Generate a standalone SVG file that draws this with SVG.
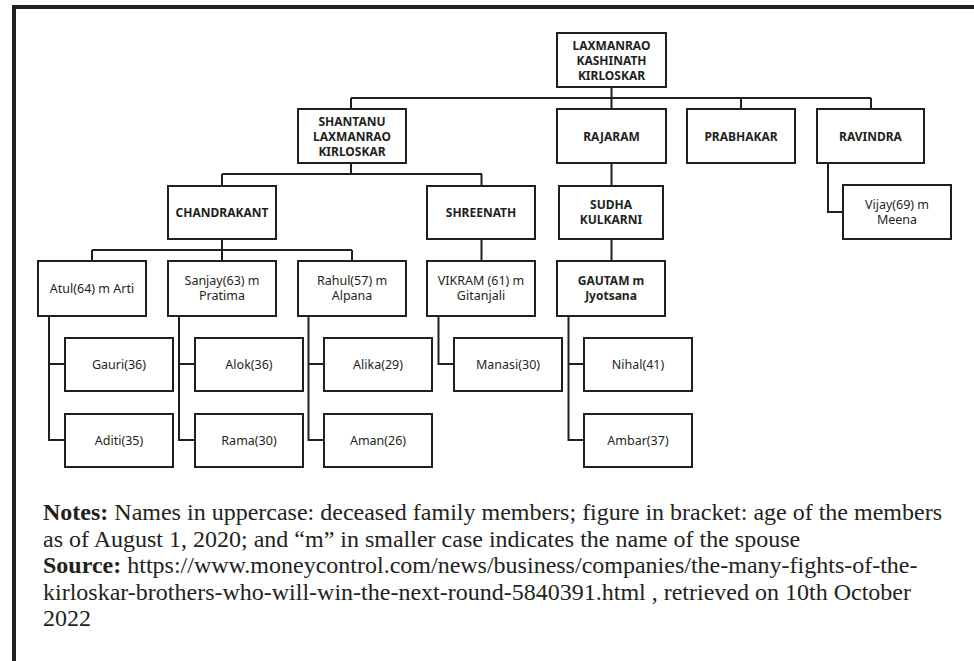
<svg xmlns="http://www.w3.org/2000/svg" width="974" height="661" viewBox="0 0 974 661">
<style>
.b{fill:#fff;stroke:#231f20;stroke-width:2}
.t{font-family:"Noto Sans","Open Sans",sans-serif;font-size:12.5px;fill:#231f20;text-anchor:middle}
.k{font-weight:bold;font-size:12px}
.c{fill:none;stroke:#231f20;stroke-width:2}
.n{font-family:"Liberation Serif","Times New Roman",serif;font-size:24px;fill:#231f20}
</style>
<rect width="974" height="661" fill="#fff"/>
<path d="M14 661V7H974" fill="none" stroke="#231f20" stroke-width="4"/>
<g id="connectors" class="c">
<path d="M611.5 87V98M351 98H871M351 98V109M611.5 98V109M741 98V109M871 98V109"/>
<path d="M351 163V174M222 174H482M222 174V186M481.5 174V186"/>
<path d="M611.5 163V186M828 163V212H843"/>
<path d="M222 239V250M92 250H352M92 250V261M222 250V261M352 250V261"/>
<path d="M481.5 239V261M611.5 239V261"/>
<path d="M49 316V440H65M49 364H65"/>
<path d="M179 316V440H195M179 364H195"/>
<path d="M308.5 316V440H324M308.5 364H324"/>
<path d="M438.5 316V364H454"/>
<path d="M568.5 316V440H584M568.5 364H584"/>
</g>
<g id="laxmanrao"><rect class="b" x="557" y="33" width="109" height="54"/><text class="t k" x="611.5"><tspan y="49.5">LAXMANRAO</tspan><tspan x="611.5" y="64.5">KASHINATH</tspan><tspan x="611.5" y="79.5">KIRLOSKAR</tspan></text></g>
<g id="shantanu"><rect class="b" x="298" y="109" width="108" height="54"/><text class="t k" x="352"><tspan y="125.5">SHANTANU</tspan><tspan x="352" y="140.5">LAXMANRAO</tspan><tspan x="352" y="155.5">KIRLOSKAR</tspan></text></g>
<g id="rajaram"><rect class="b" x="557" y="109" width="109" height="54"/><text class="t k" x="611.5" y="140.5">RAJARAM</text></g>
<g id="prabhakar"><rect class="b" x="687" y="109" width="108" height="54"/><text class="t k" x="741" y="140.5">PRABHAKAR</text></g>
<g id="ravindra"><rect class="b" x="817" y="109" width="107" height="54"/><text class="t k" x="870.5" y="140.5">RAVINDRA</text></g>
<g id="chandrakant"><rect class="b" x="168" y="186" width="108" height="53"/><text class="t k" x="222" y="216.5">CHANDRAKANT</text></g>
<g id="shreenath"><rect class="b" x="427" y="186" width="108" height="53"/><text class="t k" x="481" y="216.5">SHREENATH</text></g>
<g id="sudha"><rect class="b" x="559" y="186" width="104" height="53"/><text class="t k" x="611"><tspan y="209">SUDHA</tspan><tspan x="611" y="224">KULKARNI</tspan></text></g>
<g id="vijay"><rect class="b" x="843" y="185" width="108" height="54"/><text class="t" x="897"><tspan y="208.5">Vijay(69) m</tspan><tspan x="897" y="223.5">Meena</tspan></text></g>
<g id="atul"><rect class="b" x="38" y="261" width="108" height="55"/><text class="t" x="92" y="293">Atul(64) m Arti</text></g>
<g id="sanjay"><rect class="b" x="168" y="261" width="108" height="55"/><text class="t" x="222"><tspan y="285">Sanjay(63) m</tspan><tspan x="222" y="300">Pratima</tspan></text></g>
<g id="rahul"><rect class="b" x="298" y="261" width="108" height="55"/><text class="t" x="352"><tspan y="285">Rahul(57) m</tspan><tspan x="352" y="300">Alpana</tspan></text></g>
<g id="vikram"><rect class="b" x="427" y="261" width="108" height="55"/><text class="t" x="481"><tspan y="285">VIKRAM (61) m</tspan><tspan x="481" y="300">Gitanjali</tspan></text></g>
<g id="gautam"><rect class="b" x="557" y="261" width="108" height="55"/><text class="t k" x="611"><tspan y="285">GAUTAM m</tspan><tspan x="611" y="300">Jyotsana</tspan></text></g>
<g id="gauri"><rect class="b" x="65" y="338" width="108" height="53"/><text class="t" x="119" y="369">Gauri(36)</text></g>
<g id="aditi"><rect class="b" x="65" y="414" width="108" height="53"/><text class="t" x="119" y="445">Aditi(35)</text></g>
<g id="alok"><rect class="b" x="195" y="338" width="108" height="53"/><text class="t" x="249" y="369">Alok(36)</text></g>
<g id="rama"><rect class="b" x="195" y="414" width="108" height="53"/><text class="t" x="249" y="445">Rama(30)</text></g>
<g id="alika"><rect class="b" x="324" y="338" width="108" height="53"/><text class="t" x="378" y="369">Alika(29)</text></g>
<g id="aman"><rect class="b" x="324" y="414" width="108" height="53"/><text class="t" x="378" y="445">Aman(26)</text></g>
<g id="manasi"><rect class="b" x="454" y="338" width="108" height="53"/><text class="t" x="508" y="369">Manasi(30)</text></g>
<g id="nihal"><rect class="b" x="584" y="338" width="108" height="53"/><text class="t" x="638" y="369">Nihal(41)</text></g>
<g id="ambar"><rect class="b" x="584" y="414" width="108" height="53"/><text class="t" x="638" y="445">Ambar(37)</text></g>
<g id="notes" class="n">
<text x="43" y="520"><tspan font-weight="bold">Notes:</tspan> Names in uppercase: deceased family members; figure in bracket: age of the members</text>
<text x="43" y="546.5">as of August 1, 2020; and “m” in smaller case indicates the name of the spouse</text>
<text x="43" y="573"><tspan font-weight="bold">Source:</tspan> https://www.moneycontrol.com/news/business/companies/the-many-fights-of-the-</text>
<text x="43" y="599.5">kirloskar-brothers-who-will-win-the-next-round-5840391.html , retrieved on 10th October</text>
<text x="43" y="626">2022</text>
</g>
</svg>
